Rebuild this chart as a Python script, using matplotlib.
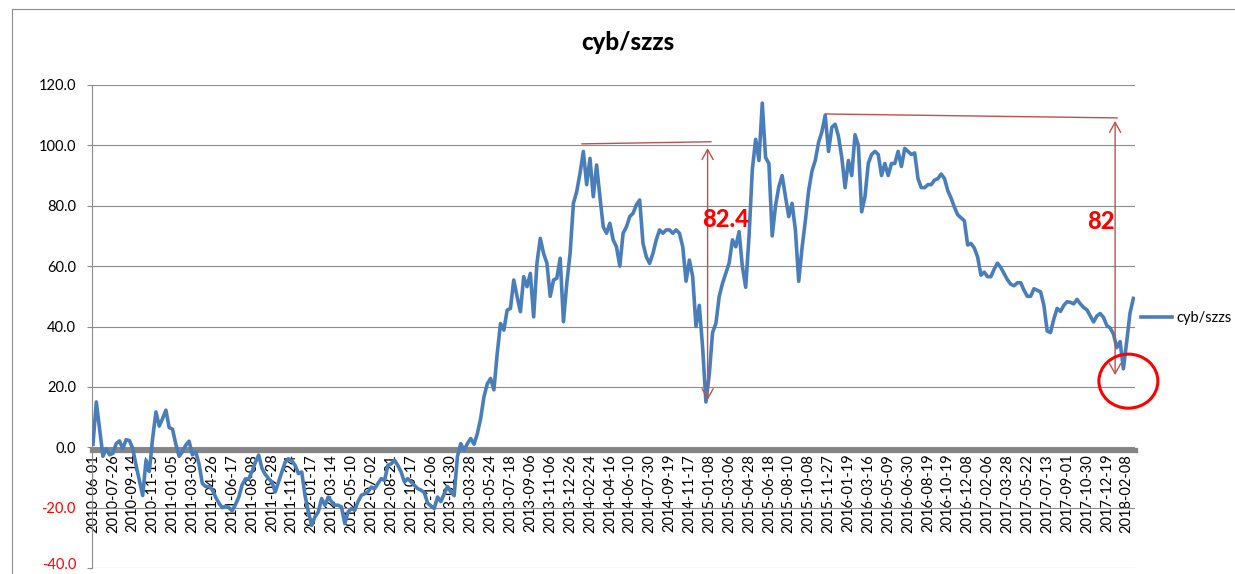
import numpy as np
import matplotlib
matplotlib.use('Agg')
import matplotlib.pyplot as plt
from matplotlib.patches import Ellipse
from matplotlib.lines import Line2D

plt.rcParams['font.family'] = ['Lato', 'DejaVu Sans']

# ---------------- data ----------------
series_name = 'cyb/szzs'

tick_labels = ['2010-06-01', '2010-07-26', '2010-09-14', '2010-11-15', '2011-01-05', '2011-03-03',
               '2011-04-26', '2011-06-17', '2011-08-08', '2011-09-28', '2011-11-24', '2012-01-17',
               '2012-03-14', '2012-05-10', '2012-07-02', '2012-08-21', '2012-10-17', '2012-12-06',
               '2013-01-30', '2013-03-28', '2013-05-24', '2013-07-18', '2013-09-06', '2013-11-06',
               '2013-12-26', '2014-02-24', '2014-04-16', '2014-06-10', '2014-07-30', '2014-09-19',
               '2014-11-17', '2015-01-08', '2015-03-06', '2015-04-28', '2015-06-18', '2015-08-10',
               '2015-10-08', '2015-11-27', '2016-01-19', '2016-03-16', '2016-05-09', '2016-06-30',
               '2016-08-19', '2016-10-19', '2016-12-08', '2017-02-06', '2017-03-28', '2017-05-22',
               '2017-07-13', '2017-09-01', '2017-10-30', '2017-12-19', '2018-02-08']

# one value every 6 trading days (a tick label every 6 values)
ratio = [
    1, 15, 6, -3, -0.5, -2.5, -2, 1.2, 2.1, -0.5,
    2.5, 2.2, -0.5, -6, -11, -16, -4.3, -8, 3, 11.7,
    7, 9.5, 12.3, 6.5, 6, 1, -3, -1.5, 0.7, 2,
    -2.5, -1.5, -5.5, -12, -13, -13, -14, -16.5, -18.5, -20,
    -19.5, -20, -21, -19, -16.5, -12.5, -10.5, -10.5, -8, -5,
    -2.6, -7, -9, -10.4, -11.5, -14.8, -11.5, -8.2, -4.9, -3.8,
    -4.5, -6, -8.7, -8.2, -16, -21.4, -25.9, -23, -21.4, -17,
    -19.2, -16.5, -18, -19.2, -19.2, -19.8, -25.3, -21.4, -20.3, -20.9,
    -18, -15.9, -15.4, -14.8, -13.2, -13.7, -12, -10.4, -11, -6,
    -5.5, -4.3, -6, -8.2, -11.5, -10.4, -11.5, -12.6, -13.7, -14.2,
    -15, -18.5, -19.5, -20.3, -16.5, -18, -15.4, -13, -14.8, -16,
    -3, 1.2, -1, 1.2, 2.9, 1, 4.5, 9.5, 16.7, 21,
    22.8, 19, 31, 41, 38.8, 45.4, 46, 55.4, 49.9, 44.9,
    56.5, 53.2, 57.6, 43.2, 61, 69.2, 64.2, 61, 50, 55.4,
    56, 62.6, 41.6, 54.3, 64.2, 80.8, 84.7, 90.8, 98, 87,
    95.7, 83, 93.5, 83, 73, 70.9, 74.2, 68.7, 66.4, 60,
    70.9, 73, 76.4, 77.5, 80.3, 81.9, 67.6, 63.1, 60.9, 64.2,
    68.7, 72, 70.9, 72, 72, 70.9, 72, 70.9, 66.4, 55,
    62, 56.5, 40, 47, 33, 15, 24, 38, 41, 49.9,
    54.3, 57.6, 61, 68.7, 66.4, 71.4, 59.8, 53, 69.8, 92,
    102, 95, 114, 96, 94, 70, 80, 86.3, 90, 83,
    76.4, 80.8, 72, 55, 66, 75, 85, 91.5, 95, 101,
    104.5, 110, 98, 106, 107, 103, 96, 86, 95, 90,
    103.5, 100, 78, 83, 94, 97, 98, 97, 90, 94,
    90, 94, 94, 98, 93, 99, 98, 97, 97.5, 89,
    86, 86, 87, 87, 88.5, 89, 90.5, 89, 85, 82.5,
    79.5, 77, 76, 75, 67, 67.5, 66, 63, 57, 58,
    56.5, 56.5, 59, 61, 59.5, 57.5, 55.5, 54, 53.5, 54.5,
    54.5, 52, 50, 50, 52.5, 52, 51.5, 47, 38.5, 38,
    42.5, 46, 45, 47, 48.2, 48, 47.5, 49, 47.5, 46.3,
    45.5, 43.5, 41.5, 43.5, 44.3, 43, 40.3, 39.5, 37.5, 33,
    35, 26, 35, 44.5, 49.3,
]

y_ticks = [-40, -20, 0, 20, 40, 60, 80, 100, 120]
label_step = 6

# ---------------- figure ----------------
W, H = 1235, 574
fig = plt.figure(figsize=(W / 100, H / 100), dpi=100)
ax = fig.add_axes([92 / W, 6 / H, (1135 - 92) / W, (568 - 85) / H])

line_color = '#4A7EBB'
grid_color = '#8C8C8C'
x = np.arange(len(ratio))
ax.plot(x, ratio, color=line_color, lw=2.6, zorder=3, solid_joinstyle='round')

ax.set_xlim(-0.3, 314.5)
ax.set_ylim(-40, 120)
ax.set_yticks(y_ticks)
# the lowest label sits on the figure's bottom edge: draw it separately, nudged up to stay visible
ax.set_yticklabels(['' if v == y_ticks[0] else f'{v:.1f}' for v in y_ticks])
for lbl, v in zip(ax.get_yticklabels(), y_ticks):
    lbl.set_color('#FF0000' if v < 0 else '#000000')
ax.annotate(f'{y_ticks[0]:.1f}', xy=(0, y_ticks[0]), xycoords=('axes fraction', 'data'),
            xytext=(-16, 3), textcoords='offset pixels', ha='right', va='center',
            fontsize=10.5, color='#FF0000', annotation_clip=False)

ax.grid(axis='y', color=grid_color, lw=0.8)
ax.set_axisbelow(True)
for s in ('top', 'right'):
    ax.spines[s].set_visible(False)
ax.spines['left'].set_color(grid_color)
ax.spines['left'].set_linewidth(0.8)
ax.spines['bottom'].set_position(('data', -0.8))
ax.spines['bottom'].set_color('#858585')
ax.spines['bottom'].set_linewidth(3.8)
ax.spines['bottom'].set_zorder(2.5)

ax.set_xticks(np.arange(0, len(tick_labels) * label_step, label_step))
ax.set_xticklabels(tick_labels, rotation=90, fontsize=10.5)
ax.tick_params(axis='x', length=0, pad=3)
ax.tick_params(axis='y', length=3.6, width=0.8, color=grid_color, pad=8, labelsize=10.5)

# ---------------- annotations ----------------
ann_color = '#C0504D'
ax.plot([147.6, 186.5], [100.5, 101.2], color=ann_color, lw=1.0, zorder=4)
ax.annotate('', xy=(185.5, 15.6), xytext=(185.5, 99.1),
            arrowprops=dict(arrowstyle='<->,head_length=0.72,head_width=0.4', color=ann_color,
                            lw=1.0, mutation_scale=10, shrinkA=0, shrinkB=0), zorder=4)
ax.text(190.8, 73.0, '82.4', color='#FF0000', fontsize=17, fontweight='black',
        ha='center', va='baseline', zorder=5)

ax.plot([221.2, 309.1], [110.4, 109.1], color=ann_color, lw=1.0, zorder=4)
ax.annotate('', xy=(308.5, 23.9), xytext=(308.5, 108.1),
            arrowprops=dict(arrowstyle='<->,head_length=0.72,head_width=0.4', color=ann_color,
                            lw=1.0, mutation_scale=10, shrinkA=0, shrinkB=0), zorder=4)
ax.text(304.3, 72.3, '82', color='#FF0000', fontsize=17, fontweight='black',
        ha='center', va='baseline', zorder=5)

ax.add_patch(Ellipse((312.5, 21.9), width=17.8, height=17.9, fill=False,
                     edgecolor='#FF0000', lw=2.2, clip_on=False, zorder=5))

# ---------------- title & legend ----------------
fig.text(628 / W, 1 - 50 / H, series_name, fontsize=17.3, fontweight='black',
         ha='center', va='baseline')

fig.legend(handles=[Line2D([], [], color=line_color, lw=2.6)], labels=[series_name],
           loc='center left', bbox_to_anchor=(1141 / W, 1 - 318 / H), frameon=False,
           handlelength=2.15, handletextpad=0.3, borderpad=0, borderaxespad=0, fontsize=10.5)

# chart-area border fragments
fig.add_artist(Line2D([12 / W, 1], [1 - 9 / H, 1 - 9 / H], color='#8E8E8E', lw=0.8))
fig.add_artist(Line2D([12 / W, 12 / W], [0, 1 - 9 / H], color='#8E8E8E', lw=0.8))

fig.savefig('out.png', dpi=100)
